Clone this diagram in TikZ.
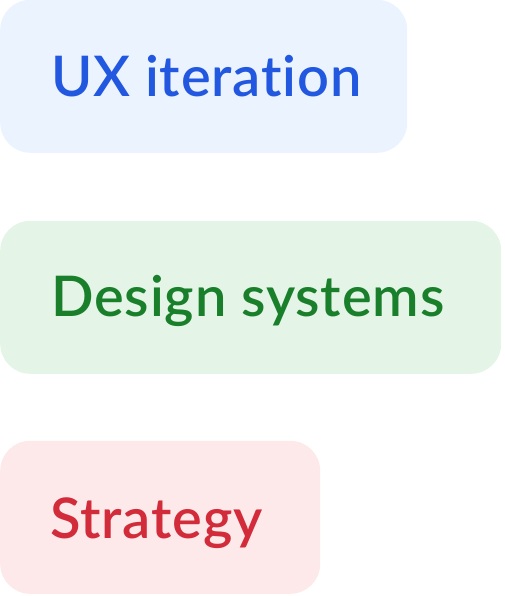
\documentclass[tikz,border=0pt]{standalone}
\usepackage{fontspec}
\setmainfont{Lato Semibold}[Ligatures=CommonOff, LetterSpace=1.5]
\definecolor{bluebg}{HTML}{EBF4FE}
\definecolor{bluefg}{HTML}{2257E0}
\definecolor{greenbg}{HTML}{E4F5E7}
\definecolor{greenfg}{HTML}{1A7F2B}
\definecolor{redbg}{HTML}{FDE8EA}
\definecolor{redfg}{HTML}{D22B3A}
\tikzset{
  pill/.style={rectangle, rounded corners=30pt, inner sep=0pt, anchor=south west, draw=none},
  label/.style={anchor=base west, inner sep=0pt, font=\fontsize{56}{60}\selectfont},
}
\begin{document}
\begin{tikzpicture}[x=1pt,y=1pt]
\useasboundingbox (0,0) rectangle (504,596);
\node[pill, fill=bluebg, minimum width=407pt, minimum height=153pt] (b1) at (0,443) {};
\node[label, text=bluefg] (t1) at (51,499) {UX iteration};
\node[pill, fill=greenbg, minimum width=501pt, minimum height=153pt] (b2) at (0,222) {};
\node[label, text=greenfg] (t2) at (51,279) {Design systems};
\node[pill, fill=redbg, minimum width=320pt, minimum height=153pt] (b3) at (0,2) {};
\node[label, text=redfg] (t3) at (50,57) {Strategy};
\end{tikzpicture}
\end{document}
